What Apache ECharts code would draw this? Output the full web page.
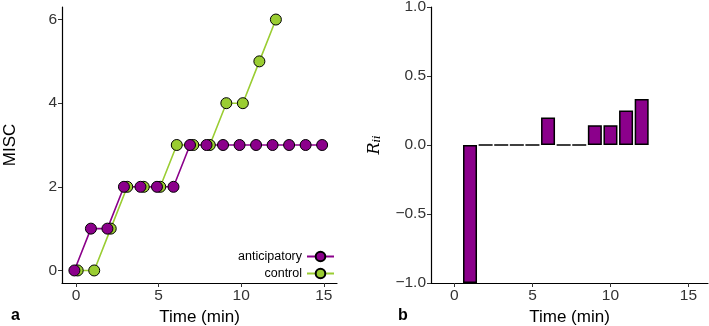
<!DOCTYPE html>
<html>
<head>
<meta charset="utf-8"/>
<title>MISC and R_ii over time</title>
<script type="text/javascript" src="https://cdn.jsdelivr.net/npm/echarts@6/dist/echarts.min.js"></script>
<style type="text/css">
	html, body { margin: 0; padding: 0; background: #fff; }
	#chart { width: 709px; height: 326px; }
</style>
</head>
<body>
<div id="chart"></div>
<script type="text/javascript">
	// panel a: MISC by minute
	var antTime = [0, 1, 2, 3, 4, 5, 6, 7, 8, 9, 10, 11, 12, 13, 14, 15];
	var antMisc = [0, 1, 1, 2, 2, 2, 2, 3, 3, 3, 3, 3, 3, 3, 3, 3];
	var ctlTime = [0, 1, 2, 3, 4, 5, 6, 7, 8, 9, 10, 11, 12];
	var ctlMisc = [0, 0, 1, 2, 2, 2, 3, 3, 3, 4, 4, 5, 6];
	var dodge = 0.1;

	// panel b: R_ii by minute
	var rTime = [1, 2, 3, 4, 5, 6, 7, 8, 9, 10, 11, 12];
	var rValue = [-1, 0, 0, 0, 0, 0.2, 0, 0, 0.143, 0.143, 0.25, 0.333];

	var xTicks = [0, 5, 10, 15];
	var yTicksA = [0, 2, 4, 6];

	var purple = '#8B008B', green = '#9ACD32';
	var font = 'Liberation Sans';
	var tickFont = 15.5, titleFont = 17;

	function pairs(xs, ys, off) {
		return xs.map(function (x, i) { return [x + off, ys[i]]; });
	}
	function minus(v) {
		return String(v).replace('-', '\u2212');
	}

	var axisBase = {
		axisLine: { show: true, onZero: false, lineStyle: { color: '#000', width: 1.2 } },
		axisTick: { show: true, length: 4, lineStyle: { color: '#333', width: 1 } },
		splitLine: { show: false },
		nameTextStyle: { fontFamily: font, fontSize: titleFont, color: '#000' }
	};
	function ax(extra) {
		return Object.assign({}, JSON.parse(JSON.stringify(axisBase)), extra);
	}
	function ticks(vals) {
		return { show: true, length: 4, customValues: vals, lineStyle: { color: '#333' } };
	}
	function labels(vals) {
		return { customValues: vals, fontFamily: font, fontSize: tickFont, color: '#333', margin: 5 };
	}

	var option = {
		animation: false,
		backgroundColor: '#fff',
		title: [
			{ text: 'a', left: 6, top: 303, textStyle: { fontFamily: font, fontSize: 16, fontWeight: 'bold', color: '#000' } },
			{ text: 'b', left: 393, top: 303, textStyle: { fontFamily: font, fontSize: 16, fontWeight: 'bold', color: '#000' } }
		],
		legend: {
			data: ['anticipatory', 'control'],
			orient: 'vertical',
			align: 'right',
			right: 369,
			top: 245,
			itemWidth: 27,
			itemHeight: 12,
			itemGap: 4,
			textStyle: { fontFamily: font, fontSize: 12.5, color: '#000' }
		},
		grid: [
			{ left: 62, top: 7, width: 275, height: 276, outerBoundsMode: 'none', containLabel: false },
			{ left: 431, top: 7, width: 277, height: 276, outerBoundsMode: 'none', containLabel: false }
		],
		xAxis: [
			ax({
				gridIndex: 0, type: 'value', min: -0.85, max: 15.8,
				name: 'Time (min)', nameLocation: 'middle', nameGap: 24,
				axisTick: ticks(xTicks), axisLabel: labels(xTicks)
			}),
			ax({
				gridIndex: 1, type: 'value', min: -1.5, max: 16.25,
				name: 'Time (min)', nameLocation: 'middle', nameGap: 24,
				axisTick: ticks(xTicks), axisLabel: labels(xTicks)
			})
		],
		yAxis: [
			ax({
				gridIndex: 0, type: 'value', min: -0.3, max: 6.3,
				name: 'MISC', nameLocation: 'middle', nameGap: 43,
				axisTick: ticks(yTicksA), axisLabel: labels(yTicksA)
			}),
			ax({
				gridIndex: 1, type: 'value', min: -1, max: 1, interval: 0.5,
				name: '{r|R}{s|ii}', nameLocation: 'middle', nameGap: 48,
				nameTextStyle: {
					rich: {
						r: { fontFamily: 'DejaVu Serif', fontStyle: 'italic', fontSize: 16, color: '#000', lineHeight: 20, verticalAlign: 'bottom' },
						s: { fontFamily: 'DejaVu Serif', fontStyle: 'italic', fontSize: 11, color: '#000', lineHeight: 15, verticalAlign: 'bottom' }
					}
				},
				axisLabel: {
					fontFamily: font, fontSize: tickFont, color: '#333', margin: 5,
					formatter: function (v) { return minus(v.toFixed(1)); }
				}
			})
		],
		series: [
			{
				name: 'control', type: 'line', xAxisIndex: 0, yAxisIndex: 0,
				data: pairs(ctlTime, ctlMisc, dodge),
				symbol: 'circle', symbolSize: 11,
				itemStyle: { color: green, borderColor: '#000', borderWidth: 1 },
				lineStyle: { color: green, width: 1.6 }
			},
			{
				name: 'anticipatory', type: 'line', xAxisIndex: 0, yAxisIndex: 0,
				data: pairs(antTime, antMisc, -dodge),
				symbol: 'circle', symbolSize: 11,
				itemStyle: { color: purple, borderColor: '#000', borderWidth: 1 },
				lineStyle: { color: purple, width: 1.6 }
			},
			{
				name: 'R_ii', type: 'bar', xAxisIndex: 1, yAxisIndex: 1,
				data: pairs(rTime, rValue, 0),
				barWidth: 14,
				itemStyle: { color: purple, borderColor: '#000', borderWidth: 1.5 }
			}
		]
	};

	var chart = echarts.init(document.getElementById('chart'));
	chart.setOption(option);
</script>
</body>
</html>
